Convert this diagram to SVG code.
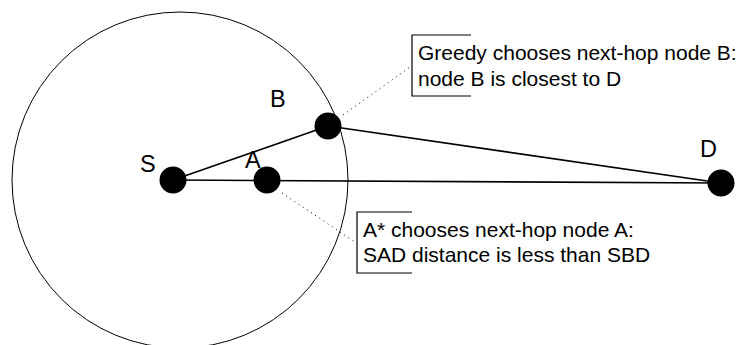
<svg xmlns="http://www.w3.org/2000/svg" width="743" height="345" viewBox="0 0 743 345">
<style>
.lbl{font-family:"Liberation Sans",Arial,sans-serif;font-size:23.5px;fill:#000}
.txt{font-family:"Liberation Sans",Arial,sans-serif;font-size:21px;fill:#000}
.edge{stroke:#000;stroke-width:1.6;fill:none}
.dot{stroke:#000;stroke-width:1;stroke-dasharray:1 4;fill:none}
.node{fill:#000}
.box{stroke:#000;stroke-width:1.2;fill:none}
</style>
<rect width="743" height="345" fill="#fff"/>
<g id="range">
<circle cx="180" cy="180" r="168" fill="none" stroke="#000" stroke-width="1"/>
</g>
<g id="connectors">
<line class="edge" x1="173" y1="180" x2="328" y2="126"/>
<line class="edge" x1="173" y1="180" x2="721" y2="183"/>
<line class="edge" x1="328" y1="126" x2="721" y2="183"/>
<line class="dot" x1="343" y1="115" x2="410" y2="67"/>
<line class="dot" x1="282" y1="193" x2="355" y2="242"/>
</g>
<g id="node-S">
<circle class="node" cx="173" cy="180" r="13.5"/>
<text class="lbl" x="140" y="172">S</text>
</g>
<g id="node-A">
<circle class="node" cx="267" cy="180" r="13.5"/>
<text class="lbl" x="245" y="168">A</text>
</g>
<g id="node-B">
<circle class="node" cx="328" cy="126" r="13.5"/>
<text class="lbl" x="270" y="107">B</text>
</g>
<g id="node-D">
<circle class="node" cx="721" cy="183" r="13.5"/>
<text class="lbl" x="700" y="157">D</text>
</g>
<g id="note-greedy">
<path class="box" d="M471,35 H412 V96 H471"/>
<text class="txt" x="418" y="60">Greedy chooses next-hop node B:</text>
<text class="txt" x="418" y="86">node B is closest to D</text>
</g>
<g id="note-astar">
<path class="box" d="M412,212 H357 V273 H412"/>
<text class="txt" x="363" y="237">A* chooses next-hop node A:</text>
<text class="txt" x="363" y="262">SAD distance is less than SBD</text>
</g>
</svg>
